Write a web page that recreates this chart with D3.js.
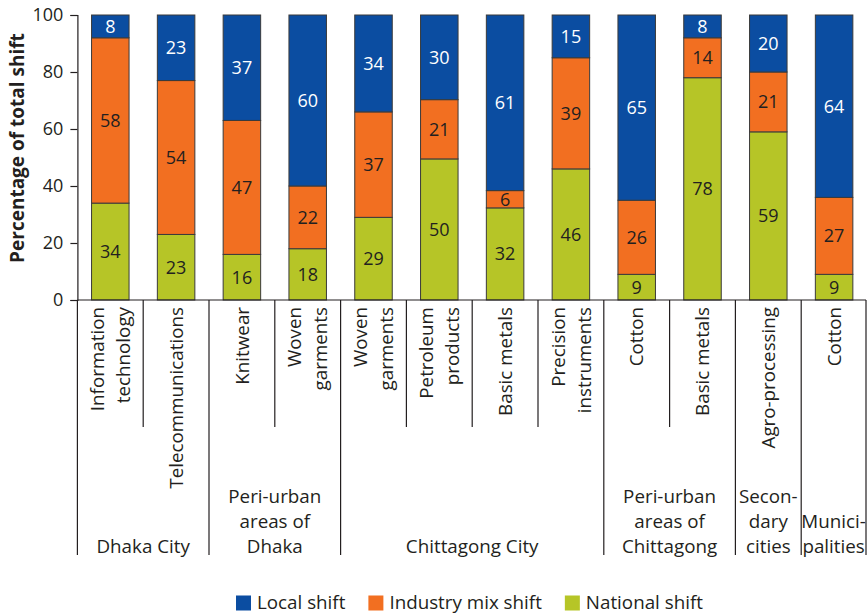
<!DOCTYPE html>
<html>
<head>
<meta charset="utf-8">
<script src="https://cdn.jsdelivr.net/npm/d3@7"></script>
<style>
  html, body { margin: 0; padding: 0; background: #fff; }
  svg { display: block; font-family: "Open Sans", "Noto Sans", sans-serif; }
</style>
</head>
<body>
<svg id="chart" width="867" height="616"></svg>
<script>
// Industry labels (each entry is the list of lines drawn under the bar)
const industries = [
  ["Information", "technology"],
  ["Telecommunications"],
  ["Knitwear"],
  ["Woven", "garments"],
  ["Woven", "garments"],
  ["Petroleum", "products"],
  ["Basic metals"],
  ["Precision", "instruments"],
  ["Cotton"],
  ["Basic metals"],
  ["Agro-processing"],
  ["Cotton"]
];

// Location groups and how many industries each covers
const groupNames = [
  ["Dhaka City"],
  ["Peri-urban", "areas of", "Dhaka"],
  ["Chittagong City"],
  ["Peri-urban", "areas of", "Chittagong"],
  ["Secon-", "dary", "cities"],
  ["Munici-", "palities"]
];
const groupSizes = [2, 2, 4, 2, 1, 1];

// Shift components, percent of total shift
const nationalShift = [34, 23, 16, 18, 29, 50, 32, 46, 9, 78, 59, 9];
const industryMixShift = [58, 54, 47, 22, 37, 21, 6, 39, 26, 14, 21, 27];
const localShift = [8, 23, 37, 60, 34, 30, 61, 15, 65, 8, 20, 64];

const seriesNames = ["National shift", "Industry mix shift", "Local shift"];
const legendOrder = ["Local shift", "Industry mix shift", "National shift"];
const yTicks = [0, 20, 40, 60, 80, 100];
const yTitle = "Percentage of total shift";

const colors = {
  "Local shift": "#0b4da1",
  "Industry mix shift": "#f26f21",
  "National shift": "#b6c527"
};
const labelColors = {
  "Local shift": "#ffffff",
  "Industry mix shift": "#231f20",
  "National shift": "#231f20"
};

(function draw() {
  const svg = d3.select("#chart");
  const plotLeft = 77.4, plotRight = 867, plotTop = 15, plotBottom = 300;
  const ink = "#231f20";
  const numSize = 18;
  const textSize = 18.8;

  const idx = d3.range(industries.length);
  const cell = d3.scaleBand().domain(idx).range([plotLeft, plotRight]).padding(0);
  const x = d3.scaleBand().domain(idx).range([plotLeft, plotRight])
    .paddingInner(0.43).paddingOuter(0.215);
  const y = d3.scaleLinear().domain([0, 100]).range([plotBottom, plotTop]);

  // Rows keyed by series so the stack can normalise each bar to its total
  const rows = idx.map(i => ({
    "National shift": nationalShift[i],
    "Industry mix shift": industryMixShift[i],
    "Local shift": localShift[i]
  }));
  const stacked = d3.stack().keys(seriesNames).offset(d3.stackOffsetExpand)(rows);

  // Bars
  const layers = svg.append("g").selectAll("g")
    .data(stacked).join("g")
    .attr("fill", d => colors[d.key]);

  layers.selectAll("rect")
    .data(d => d.map((p, i) => ({ p, i, key: d.key })))
    .join("rect")
    .attr("x", d => x(d.i))
    .attr("width", x.bandwidth())
    .attr("y", d => y(d.p[1] * 100))
    .attr("height", d => y(d.p[0] * 100) - y(d.p[1] * 100))
    .attr("stroke", "#3a3a3a")
    .attr("stroke-width", 1);

  // Value labels centred in each segment
  const valueOf = { "National shift": nationalShift, "Industry mix shift": industryMixShift, "Local shift": localShift };
  layers.selectAll("text")
    .data(d => d.map((p, i) => ({ p, i, key: d.key })))
    .join("text")
    .attr("x", d => x(d.i) + x.bandwidth() / 2)
    .attr("y", d => y((d.p[0] + d.p[1]) / 2 * 100))
    .attr("dy", "0.36em")
    .attr("text-anchor", "middle")
    .attr("font-size", numSize)
    .attr("fill", d => labelColors[d.key])
    .text(d => valueOf[d.key][d.i]);

  // Y axis
  const yAxis = svg.append("g")
    .attr("transform", `translate(${plotLeft},0)`)
    .call(d3.axisLeft(y).tickValues(yTicks).tickSize(7).tickPadding(7));
  yAxis.select(".domain").attr("stroke", ink).attr("stroke-width", 1.2);
  yAxis.selectAll(".tick line").attr("stroke", ink).attr("stroke-width", 1.2);
  yAxis.selectAll(".tick text")
    .attr("font-size", numSize)
    .attr("font-family", "Open Sans, sans-serif")
    .attr("fill", ink);

  // Baseline across the plot
  svg.append("line")
    .attr("x1", plotLeft).attr("x2", plotRight - 1)
    .attr("y1", y(0)).attr("y2", y(0))
    .attr("stroke", ink).attr("stroke-width", 1.2);

  // Y title
  svg.append("text")
    .attr("transform", "translate(24,148) rotate(-90)")
    .attr("text-anchor", "middle")
    .attr("font-size", 19)
    .attr("font-weight", "bold")
    .attr("fill", ink)
    .text(yTitle);

  // Separators under the axis: long ones between groups, short ones within
  const groupStarts = [0];
  groupSizes.forEach((n, g) => groupStarts.push(groupStarts[g] + n));
  const edgeX = b => b < industries.length ? cell(b) : plotRight - 1;
  svg.append("g").selectAll("line")
    .data(d3.range(industries.length + 1)).join("line")
    .attr("x1", edgeX)
    .attr("x2", edgeX)
    .attr("y1", plotBottom)
    .attr("y2", b => groupStarts.includes(b) ? 555 : 427)
    .attr("stroke", ink)
    .attr("stroke-width", 1.2);

  // Rotated industry labels
  const lineGap = 26;
  const catG = svg.append("g").selectAll("g")
    .data(industries.map((lines, i) => ({ lines, i })))
    .join("g")
    .attr("transform", d => `translate(${cell(d.i) + cell.bandwidth() / 2},307) rotate(-90)`);
  catG.selectAll("text")
    .data(d => d.lines.map((t, k) => ({ t, k, n: d.lines.length })))
    .join("text")
    .attr("x", 0)
    .attr("y", d => (d.k - (d.n - 1) / 2) * lineGap)
    .attr("dy", "0.36em")
    .attr("text-anchor", "end")
    .attr("font-size", textSize)
    .attr("fill", ink)
    .text(d => d.t);

  // Group labels, bottom-aligned
  svg.append("g").selectAll("text")
    .data(groupNames.map((lines, g) => ({ lines, g })))
    .join("text")
    .attr("text-anchor", "middle")
    .attr("font-size", textSize)
    .attr("fill", ink)
    .each(function (d) {
      const cx = (edgeX(groupStarts[d.g]) + edgeX(groupStarts[d.g + 1])) / 2;
      d3.select(this).selectAll("tspan")
        .data(d.lines).join("tspan")
        .attr("x", cx)
        .attr("y", (t, k) => 553 - (d.lines.length - 1 - k) * 25)
        .text(t => t);
    });

  // Legend
  const legend = svg.append("g").attr("transform", "translate(236,0)");
  let lx = 0;
  legendOrder.forEach(name => {
    const item = legend.append("g").attr("transform", `translate(${lx},0)`);
    item.append("rect")
      .attr("x", 0).attr("y", 595.5)
      .attr("width", 15).attr("height", 15)
      .attr("fill", colors[name]);
    const t = item.append("text")
      .attr("x", 21).attr("y", 609)
      .attr("font-size", textSize)
      .attr("fill", ink)
      .text(name);
    lx += 21 + t.node().getComputedTextLength() + 23;
  });
})();
</script>
</body>
</html>
